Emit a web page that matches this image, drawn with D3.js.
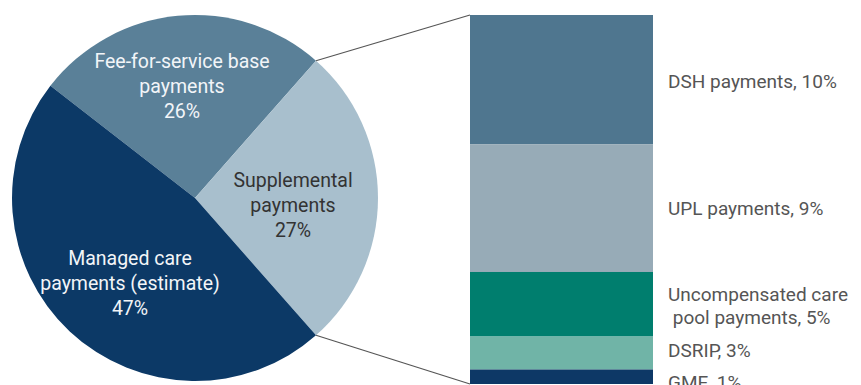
<!DOCTYPE html>
<html>
<head>
<meta charset="utf-8">
<script src="https://cdn.jsdelivr.net/npm/d3@7"></script>
<style>
  body { margin: 0; background: #fff; }
  svg { display: block; font-family: Roboto, "Noto Sans", sans-serif; }
</style>
</head>
<body>
<svg width="861" height="385"></svg>
<script>
// Pie: share of payments
const pieNames = ["Fee-for-service base payments", "Supplemental payments", "Managed care payments (estimate)"];
const pieValues = [26, 27, 47];
const pieLabelLines = [
    ["Fee-for-service base", "payments", "26%"],
    ["Supplemental", "payments", "27%"],
    ["Managed care", "payments (estimate)", "47%"]
];

// Bar: breakdown of supplemental payments (heights)
const barNames = ["DSH payments", "UPL payments", "Uncompensated care pool payments", "DSRIP", "GME"];
const barValues = [9.8, 9.7, 4.9, 2.5, 1.1];
const barLabelLines = [
    ["DSH payments, 10%"],
    ["UPL payments, 9%"],
    ["Uncompensated care", " pool payments, 5%"],
    ["DSRIP, 3%"],
    ["GME, 1%"]
];

const svg = d3.select("svg");

// colours
const pieColors = ["#5a8098", "#a8bfcd", "#0c3966"];
const pieText = ["#f2f5f8", "#333333", "#f2f5f8"];
const barColors = ["#4f768f", "#97abb7", "#007e6e", "#70b4a7", "#0d3866"];

// pie geometry
const cx = 195, cy = 198, r = 183;
const startDeg = 90 - 27 * 3.6 / 2 - 26 * 3.6;   // supplemental slice faces right

const pie = d3.pie().sort(null)
    .startAngle(startDeg * Math.PI / 180)
    .endAngle((startDeg + 360) * Math.PI / 180);
const arcs = pie(pieValues);
const arc = d3.arc().innerRadius(0).outerRadius(r);

const gPie = svg.append("g").attr("transform", `translate(${cx},${cy})`);
gPie.selectAll("path")
    .data(arcs)
    .enter()
    .append("path")
    .attr("d", arc)
    .attr("fill", (d, i) => pieColors[i]);

// label centres inside slices (x, y of first baseline, relative to centre)
const labelPos = [[-13, -130], [98, -11], [-65, 67]];
const lineH = 25;
pieLabelLines.forEach((lines, i) => {
    const t = gPie.append("text")
        .attr("text-anchor", "middle")
        .attr("font-size", 19.5)
        .attr("fill", pieText[i]);
    lines.forEach((s, j) => {
        t.append("tspan")
            .attr("x", labelPos[i][0])
            .attr("y", labelPos[i][1] + j * lineH)
            .text(s);
    });
});

// stacked bar
const barX0 = 470, barX1 = 653;
const total = d3.sum(barValues);
const y = d3.scaleLinear().domain([0, total]).range([15, 384]);
const cum = d3.cumsum([0, ...barValues]);
const segs = barValues.map((v, i) => ({ name: barNames[i], y0: cum[i], y1: cum[i + 1] }));

svg.selectAll("rect.seg")
    .data(segs)
    .enter()
    .append("rect")
    .attr("class", "seg")
    .attr("x", barX0)
    .attr("width", barX1 - barX0)
    .attr("y", d => y(d.y0))
    .attr("height", d => y(d.y1) - y(d.y0))
    .attr("fill", (d, i) => barColors[i]);

// labels to the right of the bar
const labelShift = [8, 7, -3, 4, 12];
segs.forEach((d, i) => {
    const mid = (y(d.y0) + y(d.y1)) / 2;
    const t = svg.append("text")
        .attr("font-size", 19)
        .attr("fill", "#555")
        .attr("xml:space", "preserve");
    barLabelLines[i].forEach((s, j) => {
        t.append("tspan")
            .attr("x", 668)
            .attr("y", mid + labelShift[i] + j * 23)
            .text(s);
    });
});

// connector lines from pie slice edge to bar corners
const edgeTop = arcs[1].startAngle, edgeBot = arcs[1].endAngle;
const pt = a => [cx + r * Math.sin(a), cy - r * Math.cos(a)];
[[pt(edgeTop), [barX0, y(0)]], [pt(edgeBot), [barX0, y(total)]]].forEach(p => {
    svg.append("line")
        .attr("x1", p[0][0]).attr("y1", p[0][1])
        .attr("x2", p[1][0]).attr("y2", p[1][1])
        .attr("stroke", "#555")
        .attr("stroke-width", 1.2);
});
</script>
</body>
</html>
